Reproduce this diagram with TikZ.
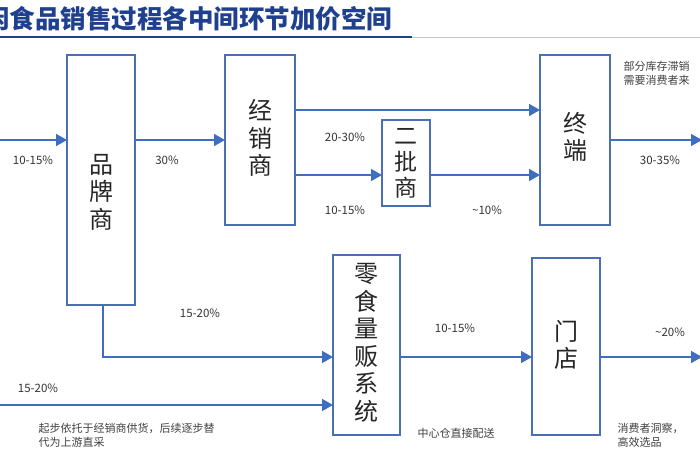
\documentclass[tikz,border=0pt]{standalone}
\usepackage{fontspec}
\setmainfont{Noto Sans CJK SC}
\usetikzlibrary{arrows.meta}
\definecolor{bx}{HTML}{4A6FB5}
\definecolor{ar}{HTML}{3F6EC0}
\definecolor{tt}{HTML}{1F3F8F}
\begin{document}
\begin{tikzpicture}[x=1pt,y=-1pt,
  box/.style={draw=bx,line width=1.4pt,fill=white},
  big/.style={font=\fontsize{24}{27.5}\selectfont,align=center,text=black!85},
  arr/.style={draw=ar,line width=1.6pt,-{Triangle[length=11pt,width=12pt]}},
  lab/.style={font=\fontsize{11.5}{13}\selectfont,text=black!80},
  note/.style={font=\fontsize{11}{14}\selectfont,text=black!75,align=left}]
\useasboundingbox (0,0) rectangle (700,470);
\clip (0,0) rectangle (700,470);
\fill[white] (0,0) rectangle (700,470);
\node[anchor=west,font=\fontsize{25.5}{28}\selectfont\bfseries,text=tt,inner sep=0pt] (title) at (-16,19) {闲食品销售过程各中间环节加价空间};
\draw[tt,line width=1.5pt] (0,37) -- (412,37);
\draw[tt!30,line width=0.8pt] (412,37) -- (700,37);
% boxes
\draw[box] (67,55) rectangle (135,305); \node[big] (pp) at (101,192) {品\\牌\\商};
\draw[box] (225,55) rectangle (295,225); \node[big] (jx) at (260,138) {经\\销\\商};
\draw[box] (382,120) rectangle (430,206); \node[big,font=\fontsize{23}{26}\selectfont] (ep) at (406,163) {二\\批\\商};
\draw[box] (540,55) rectangle (610,225); \node[big] (zd) at (575,137) {终\\端};
\draw[box] (333,255) rectangle (400,435); \node[big] (ls) at (366,343) {零\\食\\量\\贩\\系\\统};
\draw[box] (532,258) rectangle (600,435); \node[big] (md) at (566,345) {门\\店};
\coordinate (a0) at (-2,140); \coordinate (a1) at (67,140);
\coordinate (b0) at (135,140); \coordinate (b1) at (225,140);
\coordinate (c0) at (295,110); \coordinate (c1) at (540,110);
\coordinate (d0) at (295,175); \coordinate (d1) at (382,175);
\coordinate (e0) at (430,175); \coordinate (e1) at (540,175);
\coordinate (f0) at (610,140); \coordinate (f1) at (702,140);
\coordinate (g0) at (103,305); \coordinate (g1) at (333,357);
\coordinate (h0) at (-2,405); \coordinate (h1) at (333,405);
\coordinate (i0) at (400,357); \coordinate (i1) at (532,357);
\coordinate (j0) at (600,357); \coordinate (j1) at (702,357);
\draw[arr] (a0) -- (a1); \draw[arr] (b0) -- (b1); \draw[arr] (c0) -- (c1);
\draw[arr] (d0) -- (d1); \draw[arr] (e0) -- (e1); \draw[arr] (f0) -- (f1);
\draw[arr] (g0) |- (g1); \draw[arr] (h0) -- (h1); \draw[arr] (i0) -- (i1);
\draw[arr] (j0) -- (j1);
\node[lab] at (33,160) {10-15\%};
\node[lab] at (167,160) {30\%};
\node[lab] at (345,137) {20-30\%};
\node[lab] at (345,210) {10-15\%};
\node[lab] at (487,210) {\textasciitilde10\%};
\node[lab] at (660,160) {30-35\%};
\node[lab] at (200,313) {15-20\%};
\node[lab] at (38,388) {15-20\%};
\node[lab] at (455,328) {10-15\%};
\node[lab] at (670,332) {\textasciitilde20\%};
\node[note,anchor=north west] at (35,420) {起步依托于经销商供货，后续逐步替\\代为上游直采};
\node[note,anchor=west] at (414,433) {中心仓直接配送};
\node[note,anchor=north west] at (614,420) {消费者洞察，\\高效选品};
\node[note,anchor=north west] at (620,58) {部分库存滞销\\需要消费者来};
\end{tikzpicture}
\end{document}
